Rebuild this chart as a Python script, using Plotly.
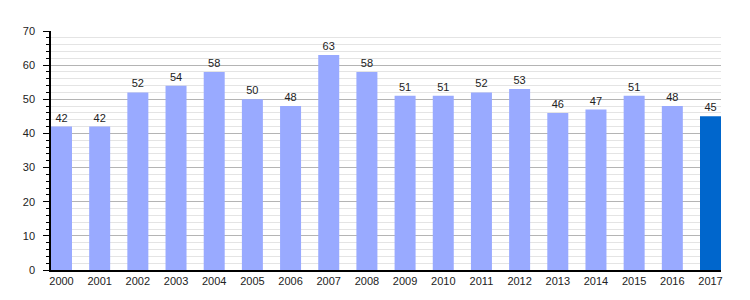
import plotly.graph_objects as go

years = [str(y) for y in range(2000, 2018)]
values = [42, 42, 52, 54, 58, 50, 48, 63, 58, 51, 51, 52, 53, 46, 47, 51, 48, 45]
colors = ["#99aaff"] * 17 + ["#0066cc"]

fig = go.Figure(go.Bar(
    x=list(range(len(years))), y=values, marker=dict(color=colors, line=dict(width=0)),
    width=0.55, text=[str(v) for v in values], textposition="outside",
    textfont=dict(size=11, color="#222222", family="Liberation Sans, Arial"),
    cliponaxis=False,
))
fig.update_layout(
    width=750, height=300, margin=dict(l=51, r=29, t=31, b=30),
    plot_bgcolor="white", paper_bgcolor="white", showlegend=False,
    font=dict(family="Liberation Sans, Arial", size=11, color="#222222"),
)
fig.update_xaxes(
    range=[-0.275, 17.275], tickmode="array", tickvals=list(range(len(years))), ticktext=years,
    showline=True, linecolor="black", linewidth=1.5, showgrid=False, ticks="", zeroline=False,
    tickfont=dict(size=11), ticklabelstandoff=0,
)
fig.update_yaxes(
    range=[0, 70], tickvals=list(range(0, 71, 10)), showline=True, linecolor="black", linewidth=1.5,
    ticks="outside", ticklen=6, tickcolor="black", gridcolor="#b4b4b4", gridwidth=1, zeroline=False,
    minor=dict(dtick=2, showgrid=True, gridcolor="#e4e4e4", ticks="outside", ticklen=3, tickcolor="black"),
    tickfont=dict(size=11), ticklabelstandoff=6,
)
fig.write_html("out.html")
